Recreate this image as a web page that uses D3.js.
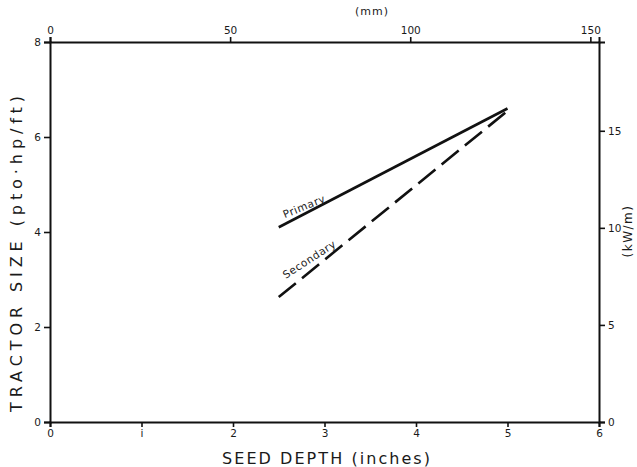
<!DOCTYPE html>
<html>
<head>
<meta charset="utf-8">
<script src="https://cdn.jsdelivr.net/npm/d3@7"></script>
<style>
  body { margin: 0; background: #fff; }
  svg { display: block; }
  .tick text { font-family: "DejaVu Sans", sans-serif; font-size: 10.5px; fill: #1a1a1a; }
  .title { font-family: "DejaVu Sans", sans-serif; fill: #1a1a1a; }
</style>
</head>
<body>
<script>
// seed depth (inches) and tractor size (pto hp per ft)
var depth = [2.5, 5];
var primary = [4.1, 6.6];
var secondary = [2.63, 6.55];

var xTicks = [0, 1, 2, 3, 4, 5, 6];
var xTickLabels = ['0', 'i', '2', '3', '4', '5', '6'];
var yTicks = [0, 2, 4, 6, 8];
var mmTicks = [0, 50, 100, 150];
var kwTicks = [0, 5, 10, 15];

var width = 637, height = 467;
var margin = {top: 42, right: 38, bottom: 45, left: 50};
var w = width - margin.left - margin.right;
var h = height - margin.top - margin.bottom;

var svg = d3.select('body').append('svg').attr('width', width).attr('height', height);
var g = svg.append('g').attr('transform', 'translate(' + margin.left + ',' + margin.top + ')');

var x = d3.scaleLinear().domain([0, 6]).range([0, w]);
var y = d3.scaleLinear().domain([0, 8]).range([h, 0]);
var xMm = d3.scaleLinear().domain([0, 6 * 25.4]).range([0, w]);   // 1 in = 25.4 mm
var yKw = d3.scaleLinear().domain([0, 8 * 2.4466]).range([h, 0]); // 1 hp/ft = 2.4466 kW/m

function styleAxis(sel) {
  sel.select('.domain').attr('stroke', '#111').attr('stroke-width', 2);
  sel.selectAll('.tick line').attr('stroke', '#111').attr('stroke-width', 1.6);
}

g.append('g').attr('transform', 'translate(0,' + h + ')')
  .call(d3.axisBottom(x).tickValues(xTicks).tickFormat(function(d, i) { return xTickLabels[i]; })
    .tickSizeOuter(0).tickSize(5).tickPadding(3))
  .call(styleAxis);

g.append('g')
  .call(d3.axisTop(xMm).tickValues(mmTicks).tickSizeOuter(0).tickSize(5).tickPadding(3))
  .call(styleAxis);

g.append('g')
  .call(d3.axisLeft(y).tickValues(yTicks).tickSizeOuter(0).tickSize(6).tickPadding(3))
  .call(styleAxis);

g.append('g').attr('transform', 'translate(' + w + ',0)')
  .call(d3.axisRight(yKw).tickValues(kwTicks).tickSizeOuter(0).tickSize(6).tickPadding(3))
  .call(styleAxis);

var line = d3.line()
  .x(function(d) { return x(d[0]); })
  .y(function(d) { return y(d[1]); });

g.append('path')
  .datum(d3.zip(depth, primary))
  .attr('d', line)
  .attr('fill', 'none').attr('stroke', '#111').attr('stroke-width', 2.6);

g.append('path')
  .datum(d3.zip(depth, secondary))
  .attr('d', line)
  .attr('fill', 'none').attr('stroke', '#111').attr('stroke-width', 2.6)
  .attr('stroke-dasharray', '22,8');

// curve labels sitting on the lines
function lineLabel(text, vals, angle, dx, dy) {
  var px = x(depth[0]) + dx, py = y(vals[0]) + dy;
  g.append('text').attr('class', 'title')
    .attr('transform', 'translate(' + px + ',' + py + ') rotate(' + angle + ')')
    .attr('font-size', 10.5).attr('letter-spacing', 0.6)
    .text(text);
}
lineLabel('Primary', primary, -22, 6, -9);
lineLabel('Secondary', secondary, -33, 7, -18);

// axis titles
svg.append('text').attr('class', 'title')
  .attr('x', 326).attr('y', 464).attr('text-anchor', 'middle')
  .attr('font-size', 16).attr('textLength', 208).attr('lengthAdjust', 'spacing')
  .text('SEED DEPTH  (inches)');

svg.append('text').attr('class', 'title')
  .attr('transform', 'translate(22,254) rotate(-90)').attr('text-anchor', 'middle')
  .attr('font-size', 16).attr('textLength', 316).attr('lengthAdjust', 'spacing')
  .text('TRACTOR SIZE  (pto·hp/ft)');

svg.append('text').attr('class', 'title')
  .attr('x', 372).attr('y', 15).attr('text-anchor', 'middle')
  .attr('font-size', 11).attr('letter-spacing', 1)
  .text('(mm)');

svg.append('text').attr('class', 'title')
  .attr('transform', 'translate(632,231) rotate(-90)').attr('text-anchor', 'middle')
  .attr('font-size', 12).attr('letter-spacing', 1.5)
  .text('(kW/m)');
</script>
</body>
</html>
